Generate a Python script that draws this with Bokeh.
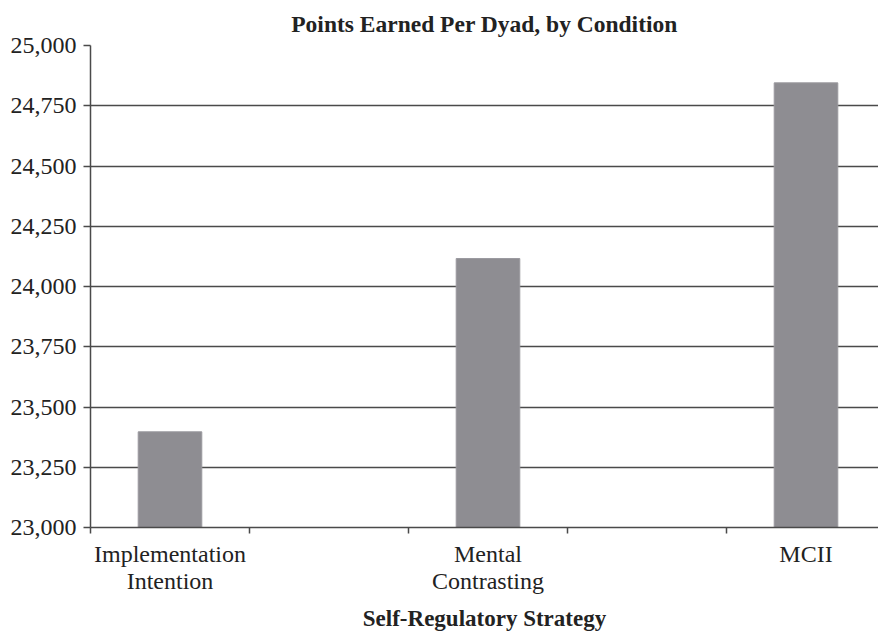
from bokeh.plotting import figure
from bokeh.models import Range1d, FixedTicker, NumeralTickFormatter, ColumnDataSource
from bokeh.embed import file_html
from bokeh.resources import INLINE

# Data
title_text = "Points Earned Per Dyad, by Condition"
categories = ["Implementation\nIntention", "Mental\nContrasting", "MCII"]
cat_positions = [0.5, 2.5, 4.5]
points = [23397, 24116, 24845]
y_ticks = [23000, 23250, 23500, 23750, 24000, 24250, 24500, 24750, 25000]
x_minor_ticks = [0, 1, 2, 3, 4, 5]

FONT = "Liberation Serif"
DARK = "#4a4a4a"
X_MAX = 788 / 159.0

src = ColumnDataSource(dict(x=cat_positions, top=points, name=[c.replace("\n", " ") for c in categories]))

p = figure(width=878, height=633, output_backend="svg", toolbar_location=None,
           x_range=Range1d(0, X_MAX), y_range=Range1d(23000, 25000),
           title=title_text)

p.min_border_left = 90
p.min_border_right = 0
p.min_border_top = 44
p.min_border_bottom = 10
p.outline_line_color = None
p.background_fill_color = "white"
p.border_fill_color = "white"

p.title.text_font = FONT
p.title.text_font_size = "23.5px"
p.title.text_font_style = "bold"
p.title.text_color = "#222222"
p.title.align = "center"
p.title.offset = 0
p.title.standoff = 17

p.vbar(x="x", top="top", bottom=23000, width=0.40, source=src,
       fill_color="#8e8d92", line_color="#9a999e", line_width=1)

# Y axis
ya = p.yaxis[0]
ya.ticker = FixedTicker(ticks=y_ticks)
ya.formatter = NumeralTickFormatter(format="0,0")
ya.major_label_text_font = FONT
ya.major_label_text_font_size = "24px"
ya.major_label_text_color = "#222222"
ya.axis_line_color = DARK
ya.axis_line_width = 1.5
ya.major_tick_line_color = DARK
ya.major_tick_line_width = 1.5
ya.major_tick_out = 7
ya.major_tick_in = 0
ya.minor_tick_line_color = None
ya.major_label_standoff = 7

# X axis
xa = p.xaxis[0]
xa.ticker = FixedTicker(ticks=cat_positions, minor_ticks=x_minor_ticks)
xa.major_label_overrides = {pos: lab for pos, lab in zip(cat_positions, categories)}
xa.major_label_text_font = FONT
xa.major_label_text_font_size = "24px"
xa.major_label_text_color = "#222222"
xa.major_label_text_line_height = 1.05
xa.axis_line_color = DARK
xa.axis_line_width = 1.5
xa.major_tick_line_color = None
xa.major_tick_out = 0
xa.major_tick_in = 0
xa.minor_tick_line_color = DARK
xa.minor_tick_line_width = 1.5
xa.minor_tick_out = 6
xa.minor_tick_in = 0
xa.major_label_standoff = 7
xa.axis_label = "Self-Regulatory Strategy"
xa.axis_label_text_font = FONT
xa.axis_label_text_font_size = "23px"
xa.axis_label_text_font_style = "bold"
xa.axis_label_text_color = "#222222"
xa.axis_label_standoff = 9

p.xgrid.grid_line_color = None
p.ygrid.ticker = FixedTicker(ticks=y_ticks)
p.ygrid.grid_line_color = DARK
p.ygrid.grid_line_width = 1.5

open("out.html", "w").write(file_html(p, INLINE))
